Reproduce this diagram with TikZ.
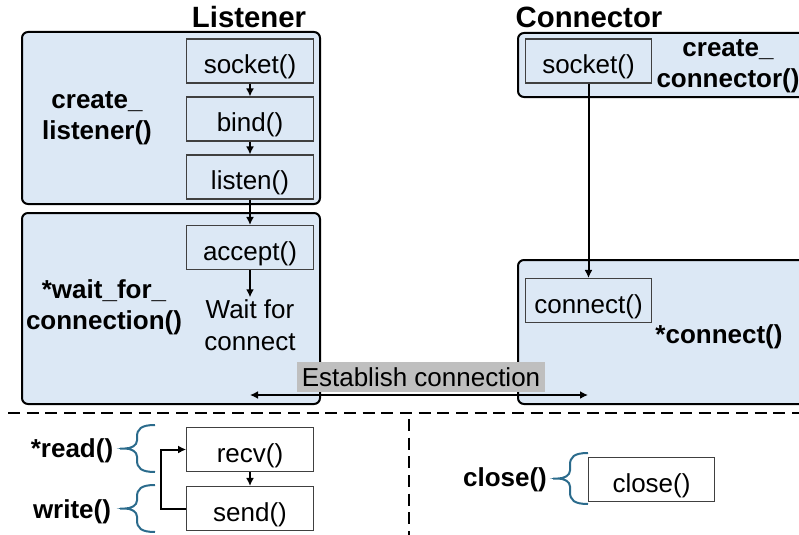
\documentclass[tikz,border=0pt]{standalone}
\usepackage{fontspec}
\setmainfont{Liberation Sans}
\usetikzlibrary{arrows.meta,positioning,calc}
\definecolor{boxblue}{HTML}{DCE8F5}
\definecolor{bracecol}{HTML}{2B6B8C}
\definecolor{bargray}{HTML}{BFBFBF}

\begin{document}
\begin{tikzpicture}[x=0.75pt,y=-0.75pt,>={Latex[length=6pt,width=6pt]},
  every node/.style={inner sep=.5mm,font=\fontsize{19.5}{24}\selectfont},
  fn/.style={draw=black!75,line width=.8pt,fill=boxblue,minimum width=95pt,minimum height=33pt,
    text height=24.5pt,text depth=5.6pt},
  grp/.style={draw=black,line width=1.5pt,fill=boxblue,rounded corners=4.5pt},
  lbl/.style={align=center,font=\fontsize{19.5}{23.5}\selectfont\bfseries},
  ttl/.style={font=\fontsize{22}{26}\selectfont\bfseries},
  flow/.style={->,line width=1.5pt},
  brc/.style={draw=bracecol,line width=1.5pt},
  sep/.style={dash pattern=on 9pt off 5pt,line width=1.5pt}]

\useasboundingbox (0,0) rectangle (799,535);

% containers
\draw[grp] (22,32) rectangle (320,204);
\draw[grp] (22,213) rectangle (320,404);
\draw[grp] (518,33) rectangle (812,97);
\draw[grp] (518,260) rectangle (812,404);

% listener side
\node[ttl] (lis) at (249,17) {Listener};
\node[fn] (sock) at (250,61) {socket()};
\node[fn] (bind) at (250,119) {bind()};
\node[fn] (listen) at (250,177) {listen()};
\node[fn] (accept) at (250,247.5) {accept()};
\node[align=center] (wait) at (250,325) {Wait for\\connect};
\node[lbl] (mklis) at (97,118) {create\_\\listener()};
\node[lbl] (waitfn) at (104,307) {*wait\_for\_\\connection()};

% connector side
\node[ttl] (con) at (589,17) {Connector};
\node[fn] (csock) at (588.5,61) {socket()};
\node[fn] (conn) at (588.5,300.5) {connect()};
\node[lbl] (mkcon) at (728,66) {create\_\\connector()};
\node[lbl] (connfn) at (719,337) {*connect()};

\node[fill=bargray,minimum width=186pt,minimum height=22.5pt] (est) at (421,377) {Establish connection};
\coordinate (estl) at (250,395);
\coordinate (estr) at (588,395);

% separators
\coordinate (hl) at (8,413);
\coordinate (hr) at (799,413);
\coordinate (vt) at (409,419);
\coordinate (vb) at (409,535);
\draw[sep] (hl) -- (hr);
\draw[sep] (vt) -- (vb);

% io and close
\node[fn,fill=white] (recv) at (250,449.5) {recv()};
\node[fn,fill=white] (send) at (250,508.5) {send()};
\node[fn,fill=white] (close) at (651.5,479.5) {close()};
\node[lbl] (rd) at (72,451) {*read()};
\node[lbl] (wr) at (72,512) {write()};
\node[lbl] (cl) at (505,480) {close()};

\foreach \f/\t in {sock/bind,bind/listen,listen/accept,accept/wait,csock/conn,recv/send}
 \draw[flow] (\f.south) -- (\t.north);
\draw[flow] (send.west) -- ++(-25,0) |- (recv.west);
\draw[flow,<->] (estl) -- (estr);

\foreach \x/\y/\h in {155/448.5/23.5,155/508.5/23.5,588/478.5/25.5}
 \draw[brc] (\x,{\y-\h}) .. controls ({\x-14},{\y-\h}) and ({\x-18},{\y-\h+4}) .. ({\x-18},{\y-\h+12})
  -- ({\x-18},{\y-8}) .. controls ({\x-18},{\y-3}) and ({\x-24},\y) .. ({\x-30},\y)
  .. controls ({\x-24},\y) and ({\x-18},{\y+3}) .. ({\x-18},{\y+8})
  -- ({\x-18},{\y+\h-12}) .. controls ({\x-18},{\y+\h-4}) and ({\x-14},{\y+\h}) .. (\x,{\y+\h})
  ({\x-30},\y) -- ({\x-35},\y);
\end{tikzpicture}
\end{document}
